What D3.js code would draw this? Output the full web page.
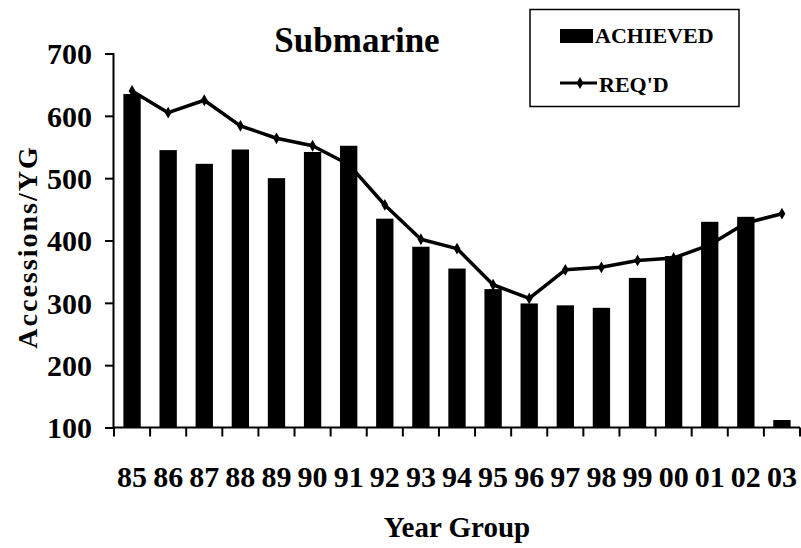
<!DOCTYPE html>
<html>
<head>
<meta charset="utf-8">
<script src="https://cdn.jsdelivr.net/npm/d3@7"></script>
<style>
  body { margin: 0; background: #fff; }
</style>
</head>
<body>
<svg id="chart"></svg>
<script>
(function() {
  /* Data */
  var years = ["85","86","87","88","89","90","91","92","93","94","95","96","97","98","99","00","01","02","03"];
  var achieved = [635,545,523,546,500,542,552,435,390,355,322,299,296,292,340,375,430,438,112];
  var required = [640,605,625,584,564,552,522,457,402,387,329,307,353,357,368,372,393,428,443];
  var yTicks = [100,200,300,400,500,600,700];

  /* SVG properties */
  var width = 801;
  var height = 548;
  var serif = "'Liberation Serif', 'Times New Roman', Times, serif";
  var svg = d3.select("#chart")
              .attr("width", width)
              .attr("height", height);

  var x = d3.scaleBand()
            .domain(years)
            .range([114, 800])
            .paddingInner(0.52)
            .paddingOuter(0.26);
  var y = d3.scaleLinear()
            .domain([100, 700])
            .range([427.5, 53.5]);

  /* bars */
  svg.selectAll("rect.bar")
     .data(achieved)
     .enter()
     .append("rect")
     .attr("class", "bar")
     .attr("x", function(d, i) { return x(years[i]); })
     .attr("y", function(d) { return y(d); })
     .attr("width", x.bandwidth())
     .attr("height", function(d) { return y(100) - y(d); })
     .attr("fill", "#000");

  /* line */
  var line = d3.line()
               .x(function(d, i) { return x(years[i]) + x.bandwidth() / 2; })
               .y(function(d) { return y(d); });
  svg.append("path")
     .datum(required)
     .attr("d", line)
     .attr("fill", "none")
     .attr("stroke", "#000")
     .attr("stroke-width", 3.5)
     .attr("stroke-linejoin", "round");
  svg.selectAll("path.marker")
     .data(required)
     .enter()
     .append("path")
     .attr("class", "marker")
     .attr("d", d3.symbol().type(d3.symbolDiamond).size(40))
     .attr("transform", function(d, i) {
       return "translate(" + (x(years[i]) + x.bandwidth() / 2) + "," + y(d) + ")";
     })
     .attr("fill", "#000");

  /* axes */
  var yAxis = svg.append("g")
                 .attr("transform", "translate(113,0)")
                 .call(d3.axisLeft(y).tickValues(yTicks).tickSize(8).tickPadding(13));
  var xAxis = svg.append("g")
                 .attr("transform", "translate(0,427.5)")
                 .call(d3.axisBottom(x).tickSize(0).tickPadding(38));
  [yAxis, xAxis].forEach(function(g) {
    g.select(".domain").attr("stroke", "#000").attr("stroke-width", 2);
    g.selectAll(".tick line").attr("stroke", "#000").attr("stroke-width", 2);
    g.selectAll("text").attr("font-size", 30);
  });
  yAxis.selectAll(".tick text").attr("dy", "0.34em");
  xAxis.select(".domain").attr("d", "M113,0H800");

  /* x ticks between groups */
  var step = x.step();
  xAxis.selectAll("line.sep")
       .data(d3.range(years.length + 1))
       .enter()
       .append("line")
       .attr("class", "sep")
       .attr("x1", function(d) { return x.range()[0] + d * step; })
       .attr("x2", function(d) { return x.range()[0] + d * step; })
       .attr("y1", 0)
       .attr("y2", 9)
       .attr("stroke", "#000")
       .attr("stroke-width", 2);

  /* titles */
  svg.append("text")
     .attr("x", 357).attr("y", 52)
     .attr("text-anchor", "middle")
     .attr("font-size", 35)
     .text("Submarine");
  svg.append("text")
     .attr("x", 457).attr("y", 537)
     .attr("text-anchor", "middle")
     .attr("font-size", 29)
     .text("Year Group");
  svg.append("text")
     .attr("transform", "translate(37,247) rotate(-90)")
     .attr("text-anchor", "middle")
     .attr("font-size", 28)
     .attr("letter-spacing", 2)
     .text("Accessions/YG");

  /* legend */
  var lg = svg.append("g");
  lg.append("rect")
    .attr("x", 530).attr("y", 9.5)
    .attr("width", 209).attr("height", 97)
    .attr("fill", "#fff")
    .attr("stroke", "#000")
    .attr("stroke-width", 1.5);
  lg.append("rect")
    .attr("x", 560).attr("y", 29)
    .attr("width", 33).attr("height", 14)
    .attr("fill", "#000");
  lg.append("text")
    .attr("x", 595).attr("y", 43)
    .attr("font-size", 22)
    .text("ACHIEVED");
  lg.append("line")
    .attr("x1", 560).attr("x2", 597)
    .attr("y1", 83).attr("y2", 83)
    .attr("stroke", "#000")
    .attr("stroke-width", 3);
  lg.append("path")
    .attr("d", d3.symbol().type(d3.symbolDiamond).size(40))
    .attr("transform", "translate(580,83)")
    .attr("fill", "#000");
  lg.append("text")
    .attr("x", 599).attr("y", 92)
    .attr("font-size", 22)
    .text("REQ'D");

  svg.selectAll("text")
     .attr("font-family", serif)
     .style("font-family", serif)
     .style("font-weight", "bold")
     .attr("fill", "#000");
})();
</script>
</body>
</html>
